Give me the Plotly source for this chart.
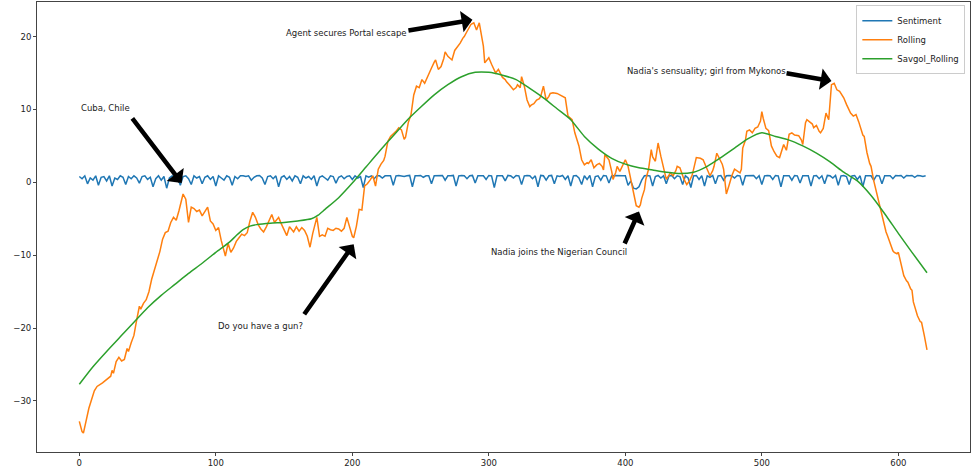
import plotly.graph_objects as go

# ---------------- data ----------------
sentiment = [
    0.8, 0.5, 0.9, -0.2, 0.6, 0.3, 0.9, -0.4, 0.7, 0.8, 0.2, 0.9, -0.5, 0.6, 0.4, 0.9, 0.7, -0.3, 0.8, 0.5,
    0.9, 0.6, -0.1, 0.8, 0.9, 0.4, 0.7, -0.6, 0.5, 0.9, 0.3, 0.8, -0.8, 0.6, 0.9, 0.2, 0.7, -0.4, 0.8, 0.9,
    0.5, -0.3, 0.9, 0.6, 0.8, -0.2, 0.7, 0.9, 0.4, 0.8, -0.5, 0.9, 0.6, 0.3, 0.9, 0.7, -0.4, 0.8, 0.5, 0.9,
    0.9, 0.8, 0.9, 0.3, 0.7, 0.9, 0.95, 0.6, -0.3, 0.8, 0.9, 0.5, 0.9, -0.6, 0.7, 0.9, 0.4, 0.8, 0.2, 0.9,
    0.7, -0.2, 0.9, 0.6, 0.8, 0.4, 0.9, -0.5, 0.7, 0.9, 0.6, 0.3, 0.9, 0.8, -0.1, 0.7, 0.9, 0.5, 0.8, 0.9,
    0.4, 0.9, 0.6, 0.8, -0.7, 0.9, 0.7, 0.9, 0.5, 0.9, 0.9, 0.6, 0.9, 0.95, 0.9, -0.4, 0.9, 0.95, 0.9, 0.8,
    0.9, 0.95, -0.6, 0.9, 0.9, 0.95, 0.7, 0.9, 0.9, -0.2, 0.9, 0.95, 0.9, 0.95, 0.3, 0.9, 0.9, 0.95, -0.5, 0.9,
    0.95, 0.9, 0.5, 0.9, 0.95, -0.1, 0.9, 0.95, 0.9, 0.4, 0.95, 0.9, -0.7, 0.9, 0.95, 0.9, 0.2, 0.95, 0.9, 0.6,
    0.95, 0.9, -0.3, 0.9, 0.95, 0.9, 0.5, 0.9, -0.6, 0.95, 0.9, 0.3, 0.9, 0.95, -0.2, 0.9, 0.8, 0.95, 0.4, 0.9,
    -0.5, 0.9, 0.95, 0.6, -0.3, 0.9, 0.4, 0.95, -0.6, 0.8, 0.9, 0.3, 0.95, 0.9, -0.1, 0.9, 0.95, 0.9, 0.95, 0.9,
    0.9, -0.4, 0.2, -0.8, -0.9, -0.6, 0.3, 0.9, 0.95, 0.9, -0.5, 0.8, 0.95, 0.6, 0.9, -0.2, 0.9, 0.95, 0.5, 0.9,
    0.8, -0.3, 0.9, 0.6, -0.7, 0.9, 0.95, 0.4, 0.9, -0.5, 0.9, 0.7, 0.95, -0.2, 0.9, 0.95, 0.3, 0.9, 0.95, 0.9,
    0.6, 0.95, 0.9, -0.4, 0.9, 0.95, 0.9, 0.95, 0.5, 0.9, -0.3, 0.9, 0.95, 0.9, 0.4, 0.95, 0.9, -0.6, 0.9, 0.95,
    0.9, 0.3, 0.95, 0.9, -0.1, 0.9, 0.95, 0.9, -0.5, 0.9, 0.95, 0.5, 0.9, -0.2, 0.95, 0.9, 0.6, 0.95, -0.4, 0.9,
    0.95, 0.8, -0.3, 0.9, 0.95, 0.4, 0.9, -0.6, 0.9, 0.95, 0.9, 0.3, 0.95, 0.9, -0.2, 0.9, 0.95, 0.9, 0.5, 0.95,
    0.9, 0.95, 0.6, 0.95, 0.9, 0.95, 0.7, 0.95, 0.9, 0.8, 0.9,
]
sentiment_x = [2 * i for i in range(len(sentiment))]

rolling_x = [
    0, 2, 3, 5, 7, 9, 11, 13, 15, 17, 19, 21, 23, 24, 25, 27, 29, 31, 33, 35, 36, 38, 40, 42, 43, 44, 45, 47, 49, 51,
    53, 55, 57, 59, 61, 63, 65, 67, 69, 71, 73, 75, 76, 78, 80, 82, 84, 86, 88, 90, 92, 94, 96, 98, 100, 102, 104, 106,
    107, 109, 111, 113, 115, 117, 119, 121, 123, 125, 127, 129, 131, 133, 135, 137, 139, 141, 143, 145, 146, 148, 150,
    152, 154, 156, 157, 159, 161, 163, 165, 167, 169, 171, 172, 174, 176, 178, 180, 182, 184, 186, 188, 190, 192, 194,
    196, 198, 200, 201, 203, 205, 207, 209, 211, 213, 215, 217, 219, 221, 223, 224, 226, 228, 230, 232, 234, 236, 238,
    239, 241, 243, 245, 247, 249, 251, 253, 255, 256, 258, 260, 261, 263, 265, 267, 268, 270, 272, 273, 275, 277, 279,
    281, 282, 284, 286, 287, 289, 291, 293, 295, 296, 297, 299, 300, 302, 304, 305, 307, 309, 310, 312, 313, 315, 316,
    318, 320, 321, 323, 324, 326, 328, 330, 331, 333, 335, 337, 338, 340, 342, 344, 345, 347, 350, 352, 354, 356, 358,
    360, 361, 363, 366, 368, 370, 372, 373, 375, 377, 379, 381, 383, 384, 385, 387, 388, 390, 391, 393, 394, 396, 398,
    400, 402, 404, 406, 408, 410, 411, 412, 414, 415, 417, 419, 420, 422, 424, 426, 428, 430, 433, 435, 437, 438, 440,
    442, 443, 445, 447, 449, 450, 452, 455, 457, 459, 460, 462, 464, 465, 467, 469, 471, 472, 474, 476, 478, 480, 482,
    484, 485, 486, 488, 489, 491, 493, 495, 497, 499, 500, 501, 503, 505, 507, 509, 511, 513, 515, 516, 518, 520, 522,
    524, 527, 529, 530, 532, 533, 535, 537, 538, 540, 542, 543, 545, 547, 549, 550, 551, 553, 555, 557, 558, 560, 562,
    564, 565, 567, 569, 571, 572, 574, 575, 577, 579, 580, 582, 584, 586, 587, 589, 591, 592, 594, 596, 597, 599, 600,
    602, 604, 606, 607, 609, 610, 611, 613, 614, 616, 617, 619, 621,
]
rolling = [
    -32.8, -34.2, -34.4, -32.6, -31.0, -29.8, -28.6, -28.0, -27.8, -27.5, -27.2, -26.9, -26.6, -25.8, -26.2, -24.6,
    -24.0, -24.5, -24.3, -22.8, -23.2, -22.0, -21.0, -18.9, -17.6, -17.0, -17.4, -16.6, -16.1, -15.0,
    -13.3, -12.0, -10.5, -9.5, -7.8, -6.9, -6.7, -5.5, -4.8, -5.2, -3.9, -2.6, -1.6, -2.3, -5.5, -3.4, -3.6, -4.0,
    -3.8, -4.6, -3.9, -3.4, -5.3, -5.7, -6.6, -6.2, -8.0, -9.2,
    -10.1, -8.4, -9.6, -9.0, -8.1, -7.6, -7.1, -7.3, -6.9, -5.3, -4.1, -4.8, -5.8, -6.4, -6.8, -6.1, -5.3, -4.4,
    -5.5, -5.0, -4.8, -5.7, -6.5,
    -7.3, -6.1, -6.6, -6.8, -6.1, -6.7, -6.2, -6.6, -7.4, -8.9, -7.0, -6.2, -4.8, -7.4, -7.2, -7.4, -6.3, -6.5,
    -6.6, -6.3, -6.4, -6.7, -6.3,
    -4.8, -6.1, -7.4, -7.6, -6.0, -3.7, -3.8, -0.5, -0.2, 0.3, 0.9, -0.5, 1.8, 2.5, 3.0, 3.6, 5.6, 6.3, 6.6, 7.0,
    7.5, 7.2, 5.9,
    6.2, 8.2, 9.3, 12.0, 13.2, 13.0, 14.1, 13.6, 14.5, 15.0, 15.7, 16.5, 16.8, 15.5, 15.9, 17.0, 17.9, 17.3, 17.0,
    16.8, 18.1, 18.6, 19.1,
    19.8, 20.0, 20.7, 21.4, 21.7, 21.9, 20.9, 21.9, 20.0, 18.7, 16.4, 16.8, 17.1, 16.2, 15.3, 15.0, 15.5, 14.6,
    14.4, 14.1, 13.8, 13.4, 13.2,
    12.7, 13.0, 13.4, 13.0, 14.5, 13.2, 11.3, 10.4, 10.6, 10.8, 11.3, 11.5, 11.8, 13.2, 11.3, 11.8, 12.2, 12.3,
    12.2, 12.0, 11.8, 11.6, 9.1,
    8.8, 8.6, 6.8, 5.0, 3.1, 2.4, 2.7, 2.6, 3.1, 2.0, 2.4, 2.6, 2.2, 1.7, 3.8, 3.4, 3.1, 1.5, 0.4, 1.4, 2.2, 1.5, 2.4,
    3.1, 2.2, 0.4, -1.4, -3.2, -3.4, -3.1, -2.2, -1.0, 0.4, 1.8, 4.5, 3.5, 2.9, 5.4, 3.6, 1.8, 0.4, 1.3, 0.9, 1.6,
    2.2, 2.0,
    1.0, 0.4, -0.3, 0.2, 1.0, 1.8, 3.4, 3.3, 3.1, 2.2, 1.8, 0.9, 1.6, 2.2, 4.0, 3.2, 2.5, 1.8, -1.6, -0.4, 0.9, 1.8,
    1.5,
    1.3, 1.8, 4.7, 5.8, 7.0, 7.2, 6.8, 7.4, 7.6, 8.4, 9.7, 8.8, 7.4, 7.1, 5.0, 4.2, 3.6, 3.4, 4.6, 5.2, 4.4, 6.6, 6.8,
    6.5, 6.4, 5.8, 5.2, 8.2, 8.6, 8.3, 8.0, 7.5, 7.8, 7.0, 6.8, 7.4, 9.5, 8.6, 11.3, 13.4, 13.6, 12.7, 12.5, 12.2,
    11.6, 10.7,
    10.0, 9.5, 9.1, 9.3, 8.3, 7.7, 6.5, 6.3, 4.1, 2.6, 2.2, 0.2, -1.4, -2.8, -3.7, -5.5, -6.8, -7.3, -8.5, -9.4,
    -9.6, -9.8, -9.6,
    -11.0, -12.8, -13.5, -13.7, -14.6, -14.8, -16.4, -17.8, -18.3, -19.1, -19.2, -21.0, -23.0,
]

savgol_x = [0, 10, 20, 30, 40, 50, 60, 70, 80, 90, 100, 110, 115, 120, 125, 130, 140, 150, 160, 170, 175, 180,
            190, 200, 210, 220, 230, 240, 250, 260, 270, 280, 290, 300, 310, 320, 330, 340, 350, 360, 370, 380,
            390, 400, 410, 420, 430, 440, 450, 460, 470, 480, 490, 500, 510, 520, 530, 540, 550, 560, 570, 580,
            590, 600, 610, 621]
savgol = [-27.7, -25.3, -23.2, -21.2, -19.2, -17.2, -15.5, -14.0, -12.5, -11.1, -9.6, -8.2, -7.3, -6.5, -6.0,
          -5.8, -5.6, -5.5, -5.3, -5.0, -4.5, -3.7, -2.1, -0.1, 2.1, 4.3, 6.4, 8.5, 10.3, 12.0, 13.4, 14.5, 15.1,
          15.1, 14.7, 14.1, 12.9, 11.6, 10.1, 8.6, 6.3, 4.6, 3.3, 2.5, 2.0, 1.7, 1.4, 1.2, 1.4, 2.2, 3.4, 4.7,
          6.0, 6.8, 6.3, 5.8, 5.0, 4.0, 2.8, 1.4, 0.2, -1.8, -4.3, -7.0, -9.6, -12.4]

# annotations: text, text anchor (x, y), arrow tail (x, y), arrow head (x, y)
notes = ["Cuba, Chile", "Agent secures Portal escape", "Nadia's sensuality; girl from Mykonos",
         "Nadia joins the Nigerian Council", "Do you have a gun?"]
note_text_xy = [(0, 10.25), (150, 20.5), (400, 15.3), (300, -9.6), (100, -19.7)]
note_tail_xy = [(38, 9.0), (240, 20.8), (517, 15.0), (399, -8.6), (164, -18.3)]
note_head_xy = [(75, -0.1), (288, 22.3), (551, 13.9), (410, -4.0), (201, -8.5)]

x_ticks = [0, 100, 200, 300, 400, 500, 600]
y_ticks = [-30, -20, -10, 0, 10, 20]

# ---------------- figure ----------------
FONT = "DejaVu Sans"
FS = 8.5
fig = go.Figure()
fig.add_trace(go.Scatter(x=sentiment_x, y=sentiment, mode="lines", name="Sentiment",
                         line=dict(color="#1f77b4", width=1.5)))
fig.add_trace(go.Scatter(x=rolling_x, y=rolling, mode="lines", name="Rolling",
                         line=dict(color="#ff7f0e", width=1.5)))
fig.add_trace(go.Scatter(x=savgol_x, y=savgol, mode="lines", name="Savgol_Rolling",
                         line=dict(color="#2ca02c", width=1.5, shape="spline", smoothing=0.6)))

annotations = []
for t, (tx, ty), (ax, ay), (hx, hy) in zip(notes, note_text_xy, note_tail_xy, note_head_xy):
    annotations.append(dict(x=tx, y=ty, xref="x", yref="y", text=t, showarrow=False,
                            xanchor="left", yanchor="middle",
                            font=dict(family=FONT, size=FS, color="#222")))
    annotations.append(dict(x=hx, y=hy, xref="x", yref="y", ax=ax, ay=ay, axref="x", ayref="y",
                            text="", showarrow=True, arrowhead=1, arrowsize=0.8, arrowwidth=4.5,
                            arrowcolor="black", standoff=0, startstandoff=0))

axis_common = dict(showgrid=False, zeroline=False, showline=True, linecolor="#444", linewidth=1,
                   mirror=True, ticks="outside", ticklen=3, tickcolor="#444", tickwidth=1,
                   automargin=False, tickfont=dict(family=FONT, size=FS, color="#222"))

fig.update_layout(
    width=976, height=468,
    margin=dict(l=37, r=6, t=2, b=16, autoexpand=False),
    paper_bgcolor="white", plot_bgcolor="white",
    font=dict(family=FONT, size=FS, color="#222"),
    xaxis=dict(range=[-31, 652.5], tickvals=x_ticks, **axis_common),
    yaxis=dict(range=[-37.0, 24.75], tickvals=y_ticks, **axis_common),
    legend=dict(x=0.995, y=0.993, xanchor="right", yanchor="top", bgcolor="white",
                bordercolor="#ccc", borderwidth=1, font=dict(family=FONT, size=FS, color="#222"),
                itemwidth=30, tracegroupgap=0),
    annotations=annotations,
    showlegend=True,
)

fig.write_html("out.html", config={"displayModeBar": False},
               post_script="document.body.style.margin='0';document.body.style.overflow='hidden';")
